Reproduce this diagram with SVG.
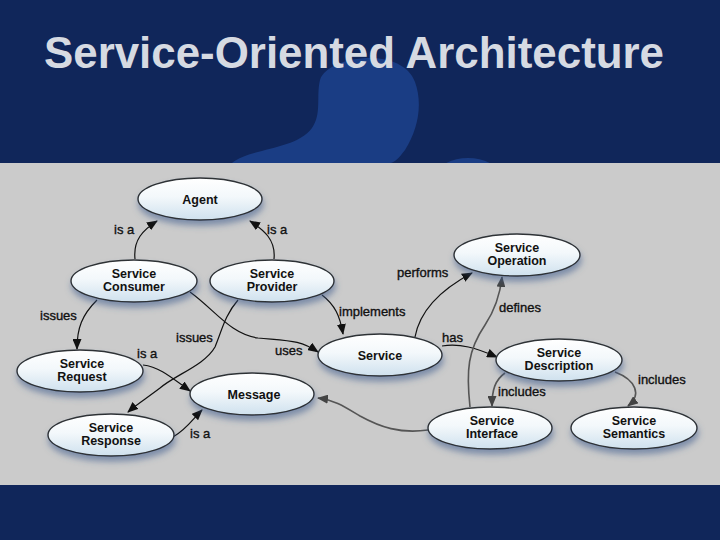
<svg xmlns="http://www.w3.org/2000/svg" width="720" height="540" viewBox="0 0 720 540">
<defs>
<style>
.node{fill:url(#ng);stroke:#2e3236;stroke-width:1.4;filter:url(#sh)}
.nl{font-family:"Liberation Sans",Arial,sans-serif;font-weight:bold;font-size:12.5px;fill:#111;text-anchor:middle}
.el{font-family:"Liberation Sans",Arial,sans-serif;font-size:13px;fill:#111;stroke:#111;stroke-width:0.35}
.e{fill:none;stroke:#111;stroke-width:1.2}
.eg{fill:none;stroke:#555;stroke-width:1.6}
</style>
<linearGradient id="ng" x1="0" y1="0" x2="0" y2="1">
<stop offset="0" stop-color="#ffffff"/>
<stop offset="0.45" stop-color="#f3f8fb"/>
<stop offset="1" stop-color="#cfe1ee"/>
</linearGradient>
<filter id="sh" x="-20%" y="-30%" width="140%" height="180%">
<feGaussianBlur in="SourceAlpha" stdDeviation="3"/>
<feOffset dx="1" dy="5" result="b"/>
<feFlood flood-color="#3c5a8c" flood-opacity="0.55"/>
<feComposite in2="b" operator="in"/>
<feMerge><feMergeNode/><feMergeNode in="SourceGraphic"/></feMerge>
</filter>
<marker id="ab" markerWidth="11" markerHeight="9" refX="10" refY="4.5" orient="auto" markerUnits="userSpaceOnUse">
<path d="M0,0 L11,4.5 L0,9 z" fill="#111"/>
</marker>
<marker id="ag" markerWidth="11" markerHeight="9" refX="10" refY="4.5" orient="auto" markerUnits="userSpaceOnUse">
<path d="M0,0 L11,4.5 L0,9 z" fill="#444"/>
</marker>
<clipPath id="top"><rect x="0" y="0" width="720" height="163"/></clipPath>
</defs>

<rect x="0" y="0" width="720" height="540" fill="#10265a"/>
<g clip-path="url(#top)" fill="#1a3d84">
<path d="M232,163 C250,148 296,150 312,128 C322,114 316,96 320,80 C328,55 402,46 415,82 C423,104 418,130 405,150 C399,158 394,163 390,163 Z"/>
<ellipse cx="468" cy="174" rx="30" ry="16"/>
</g>
<text x="44" y="68" font-family="'Liberation Sans',Arial,sans-serif" font-weight="bold" font-size="44" fill="#d6dae2" textLength="620" lengthAdjust="spacingAndGlyphs">Service-Oriented Architecture</text>
<rect x="0" y="163" width="720" height="322" fill="#cbcbcb"/>

<g id="connectors">
<path class="e" d="M135,259 C133,240 143,230 157,221" marker-end="url(#ab)"/>
<path class="e" d="M274,259 C276,240 264,230 250,221" marker-end="url(#ab)"/>
<path class="e" d="M97,300 C82,315 77,328 77,349" marker-end="url(#ab)"/>
<path class="e" d="M190,292 C215,310 230,334 258,338 C290,341 300,340 318,352" marker-end="url(#ab)"/>
<path class="e" d="M238,300 C225,315 222,330 215,347 C205,365 175,375 160,388 C147,398 137,404 128,412" marker-end="url(#ab)"/>
<path class="e" d="M143,365 C160,367 172,378 190,391" marker-end="url(#ab)"/>
<path class="e" d="M173,437 C186,430 192,420 202,410" marker-end="url(#ab)"/>
<path class="e" d="M322,295 C335,305 340,316 343,334" marker-end="url(#ab)"/>
<path class="e" d="M415,337 C420,310 440,290 472,273" marker-end="url(#ab)"/>
<path class="e" d="M442,346 C460,343 476,348 497,357" marker-end="url(#ab)"/>
<path class="eg" d="M470,407 C466,370 468,350 485,325 C495,310 500,295 502,277" marker-end="url(#ag)"/>
<path class="eg" d="M505,373 C495,380 492,390 492,406" marker-end="url(#ag)"/>
<path class="eg" d="M615,372 C636,380 642,395 628,406" marker-end="url(#ag)"/>
<path class="eg" d="M428,430 C400,434 380,427 360,416 C345,407 335,400 318,398" marker-end="url(#ag)"/>
<text class="el" x="114" y="234">is a</text>
<text class="el" x="267" y="234">is a</text>
<text class="el" x="40" y="320">issues</text>
<text class="el" x="339" y="316">implements</text>
<text class="el" x="397" y="277">performs</text>
<text class="el" x="499" y="312">defines</text>
<text class="el" x="442" y="342">has</text>
<text class="el" x="498" y="396">includes</text>
<text class="el" x="638" y="384">includes</text>
<text class="el" x="176" y="342">issues</text>
<text class="el" x="275" y="355">uses</text>
<text class="el" x="137" y="358">is a</text>
<text class="el" x="190" y="438">is a</text>
</g>

<g id="agent"><ellipse class="node" cx="200" cy="199" rx="62" ry="21"/><text class="nl" x="200" y="203.5">Agent</text></g>
<g id="service-consumer"><ellipse class="node" cx="134" cy="281" rx="63" ry="21"/><text class="nl" x="134" y="278">Service</text><text class="nl" x="134" y="291">Consumer</text></g>
<g id="service-provider"><ellipse class="node" cx="272" cy="281" rx="62" ry="21"/><text class="nl" x="272" y="278">Service</text><text class="nl" x="272" y="291">Provider</text></g>
<g id="service-operation"><ellipse class="node" cx="517" cy="255" rx="63" ry="21"/><text class="nl" x="517" y="252">Service</text><text class="nl" x="517" y="265">Operation</text></g>
<g id="service"><ellipse class="node" cx="380" cy="355" rx="62" ry="21"/><text class="nl" x="380" y="359.5">Service</text></g>
<g id="service-description"><ellipse class="node" cx="559" cy="360" rx="63" ry="21"/><text class="nl" x="559" y="357">Service</text><text class="nl" x="559" y="370">Description</text></g>
<g id="service-interface"><ellipse class="node" cx="490" cy="428" rx="62" ry="21"/><text class="nl" x="492" y="425">Service</text><text class="nl" x="492" y="438">Interface</text></g>
<g id="service-semantics"><ellipse class="node" cx="634" cy="428" rx="63" ry="21"/><text class="nl" x="634" y="425">Service</text><text class="nl" x="634" y="438">Semantics</text></g>
<g id="service-request"><ellipse class="node" cx="80" cy="371" rx="63" ry="21"/><text class="nl" x="82" y="368">Service</text><text class="nl" x="82" y="381">Request</text></g>
<g id="message"><ellipse class="node" cx="252" cy="394" rx="62" ry="21"/><text class="nl" x="254" y="398.5">Message</text></g>
<g id="service-response"><ellipse class="node" cx="111" cy="435" rx="63" ry="21"/><text class="nl" x="111" y="432">Service</text><text class="nl" x="111" y="445">Response</text></g>
</svg>
